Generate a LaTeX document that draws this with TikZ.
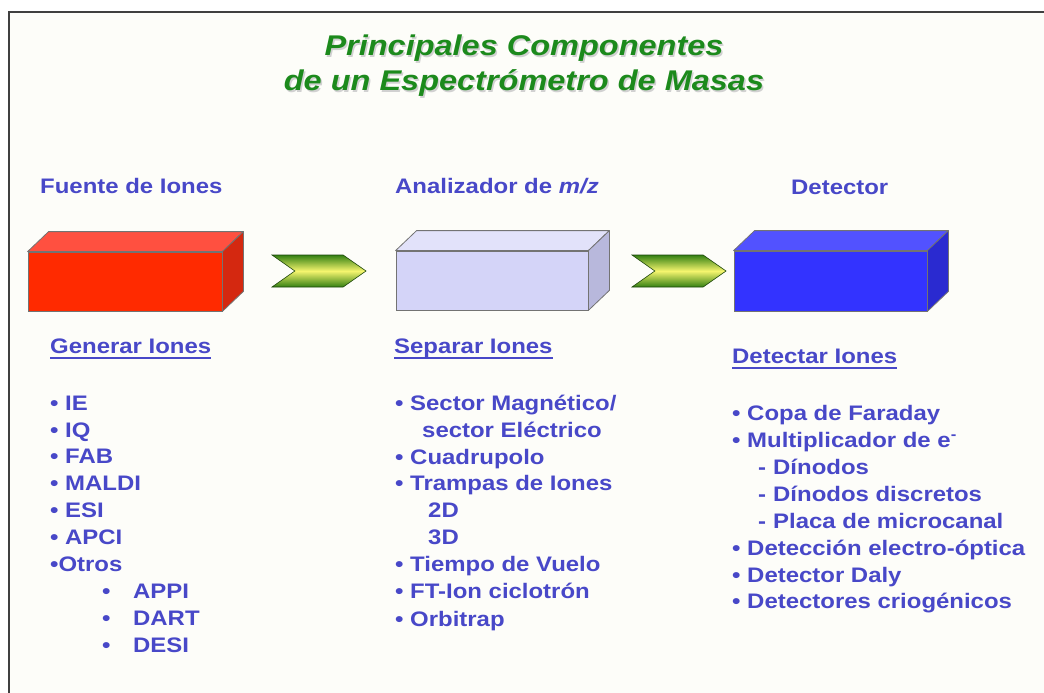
\documentclass[tikz,border=0pt]{standalone}
\usepackage{fontspec}
\setmainfont{Liberation Sans}[FakeStretch=1.14]
\usetikzlibrary{shapes.symbols}
\definecolor{txtblue}{RGB}{72,72,200}
\definecolor{ttlgreen}{RGB}{28,138,28}
\definecolor{bgcol}{RGB}{253,253,249}
\definecolor{redfront}{RGB}{255,42,0}
\definecolor{redtop}{RGB}{255,80,64}
\definecolor{redside}{RGB}{212,40,16}
\definecolor{lilfront}{RGB}{212,212,248}
\definecolor{liltop}{RGB}{226,226,250}
\definecolor{lilside}{RGB}{184,184,220}
\definecolor{blufront}{RGB}{51,51,255}
\definecolor{blutop}{RGB}{82,82,255}
\definecolor{bluside}{RGB}{42,42,208}
\definecolor{chgreen}{RGB}{52,128,18}
\definecolor{chyellow}{RGB}{245,245,110}
\begin{document}
\begin{tikzpicture}[x=1pt,y=-1pt,
  txt/.style={anchor=base west, inner sep=0pt, text=txtblue, font=\fontsize{21}{25}\selectfont\bfseries},
  ttl/.style={anchor=base, inner sep=0pt, text=ttlgreen, font=\fontsize{28.5}{34}\selectfont\bfseries\itshape},
  ttlshadow/.style={ttl, text=black!18},
  front/.style={draw=black!55, line width=0.8pt, inner sep=0pt, minimum height=59pt},
  face/.style={draw=black!55, line width=0.8pt, line join=round},
  chev/.style={shape=signal, signal to=east, signal from=west, signal pointer angle=70,
    minimum width=94pt, minimum height=32pt, inner sep=0pt, draw=black!45!chgreen, line width=0.6pt,
    top color=chgreen, bottom color=chgreen, middle color=chyellow},
  uline/.style={draw=txtblue, line width=1.4pt}
]
\useasboundingbox (0,0) rectangle (1044,693);
\fill[white] (0,0) rectangle (1044,693);
\fill[bgcol] (9,12) rectangle (1044,693);
\draw[line width=1.6pt, black!75] (9,693) -- (9,12) -- (1044,12);

% title
\node[ttlshadow] (t1s) at (525.5,57.5) {Principales Componentes};
\node[ttlshadow] (t2s) at (525.5,92.5) {de un Espectrómetro de Masas};
\node[ttl] (t1) at (524,56) {Principales Componentes};
\node[ttl] (t2) at (524,91) {de un Espectrómetro de Masas};

% headers
\node[txt] (h1) at (40,193) {Fuente de Iones};
\node[txt] (h2) at (395,193) {Analizador de \textit{m/z}};
\node[txt] (h3) at (791,194) {Detector};

% boxes
\node[front, fill=redfront, minimum width=194pt] (b1) at (125,281.5) {};
\draw[face, fill=redtop] (b1.north west) -- ++(21,-20) -- ([shift={(21,-20)}]b1.north east) -- (b1.north east) -- cycle;
\draw[face, fill=redside] (b1.north east) -- ++(21,-20) -- ([shift={(21,-20)}]b1.south east) -- (b1.south east) -- cycle;

\node[front, fill=lilfront, minimum width=192pt] (b2) at (492,280.5) {};
\draw[face, fill=liltop] (b2.north west) -- ++(21,-20) -- ([shift={(21,-20)}]b2.north east) -- (b2.north east) -- cycle;
\draw[face, fill=lilside] (b2.north east) -- ++(21,-20) -- ([shift={(21,-20)}]b2.south east) -- (b2.south east) -- cycle;

\node[front, fill=blufront, minimum width=193pt, minimum height=60pt] (b3) at (830.5,281) {};
\draw[face, fill=blutop] (b3.north west) -- ++(21,-20) -- ([shift={(21,-20)}]b3.north east) -- (b3.north east) -- cycle;
\draw[face, fill=bluside] (b3.north east) -- ++(21,-20) -- ([shift={(21,-20)}]b3.south east) -- (b3.south east) -- cycle;

% chevrons
\node[chev] (c1) at (319,271) {};
\node[chev] (c2) at (679,271) {};

% left column
\node[txt] (g0) at (50,353) {Generar Iones};
\draw[uline] ([yshift=-5pt]g0.base west) -- ([yshift=-5pt]g0.base east);
\node[txt] (g1) at (50,410) {• IE};
\node[txt] (g2) at (50,437) {• IQ};
\node[txt] (g3) at (50,463) {• FAB};
\node[txt] (g4) at (50,490) {• MALDI};
\node[txt] (g5) at (50,517) {• ESI};
\node[txt] (g6) at (50,544) {• APCI};
\node[txt] (g7) at (50,571) {•Otros};
\node[txt] (g8) at (102,598) {\makebox[31pt][l]{•}APPI};
\node[txt] (g9) at (102,625) {\makebox[31pt][l]{•}DART};
\node[txt] (g10) at (102,652) {\makebox[31pt][l]{•}DESI};

% middle column
\node[txt] (s0) at (394,353) {Separar Iones};
\draw[uline] ([yshift=-5pt]s0.base west) -- ([yshift=-5pt]s0.base east);
\node[txt] (s1) at (395,410) {• Sector Magnético/};
\node[txt] (s2) at (422,437) {sector Eléctrico};
\node[txt] (s3) at (395,464) {• Cuadrupolo};
\node[txt] (s4) at (395,490) {• Trampas de Iones};
\node[txt] (s5) at (428,517) {2D};
\node[txt] (s6) at (428,544) {3D};
\node[txt] (s7) at (395,571) {• Tiempo de Vuelo};
\node[txt] (s8) at (395,598) {• FT-Ion ciclotrón};
\node[txt] (s9) at (395,626) {• Orbitrap};

% right column
\node[txt] (d0) at (732,363) {Detectar Iones};
\draw[uline] ([yshift=-5pt]d0.base west) -- ([yshift=-5pt]d0.base east);
\node[txt] (d1) at (732,420) {• Copa de Faraday};
\node[txt] (d2) at (732,447) {• Multiplicador de e\textsuperscript{-}};
\node[txt] (d3) at (758,474) {\makebox[15pt][l]{-}Dínodos};
\node[txt] (d4) at (758,501) {\makebox[15pt][l]{-}Dínodos discretos};
\node[txt] (d5) at (758,528) {\makebox[15pt][l]{-}Placa de microcanal};
\node[txt] (d6) at (732,555) {• Detección electro-óptica};
\node[txt] (d7) at (732,582) {• Detector Daly};
\node[txt] (d8) at (732,608) {• Detectores criogénicos};
\end{tikzpicture}
\end{document}
